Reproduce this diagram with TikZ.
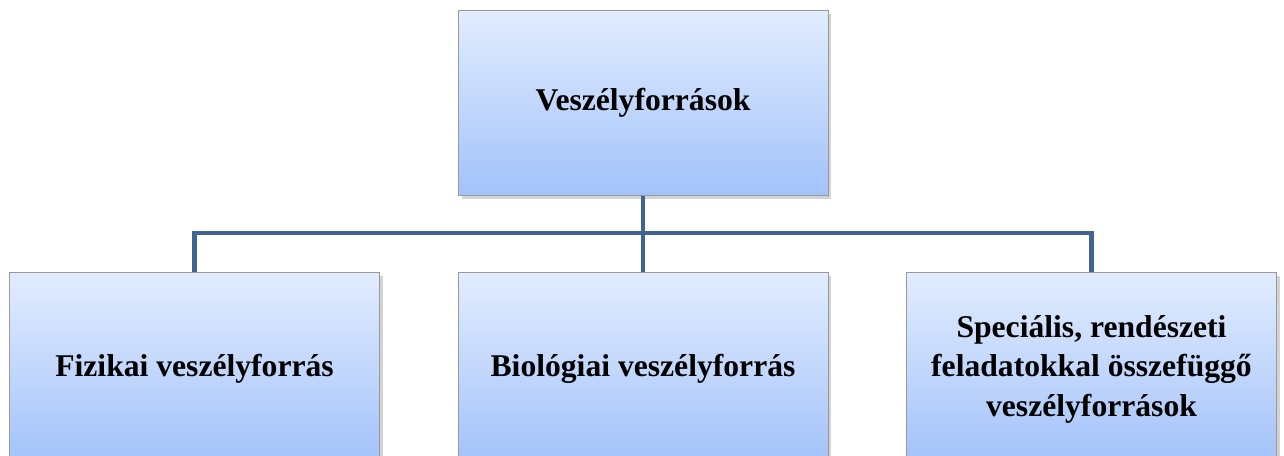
\documentclass[tikz,border=0pt]{standalone}
\usepackage{fontspec}
\setmainfont{Liberation Serif}
\usetikzlibrary{shadows}
\definecolor{boxtop}{HTML}{E2ECFE}
\definecolor{boxbottom}{HTML}{A2C2FA}
\definecolor{linkblue}{HTML}{3F6491}
\tikzset{
  sourcebox/.style={draw=black!40,top color=boxtop,bottom color=boxbottom,
    minimum width=7.4cm,minimum height=3.7cm,align=center,
    font=\bfseries\fontsize{18}{22.5}\selectfont,
    drop shadow={shadow xshift=2pt,shadow yshift=-2pt,opacity=0.35}},
  branch/.style={draw=linkblue,line width=2.8pt}
}
\begin{document}
\begin{tikzpicture}[x=0.02cm,y=0.02cm]
  \useasboundingbox (0,0) rectangle (1284,-456);

  % Root
  \node[sourcebox] (Sources) at (643,-103) {Veszélyforrások};

  % Branches
  \node[sourcebox,minimum height=3.88cm] (Physical) at (194.5,-369) {Fizikai veszélyforrás};
  \node[sourcebox,minimum height=3.88cm] (Biological) at (643,-369) {Biológiai veszélyforrás};
  \node[sourcebox,minimum height=3.88cm] (Special) at (1091.5,-369) {Speciális, rendészeti\\feladatokkal összefüggő\\veszélyforrások};

  \coordinate (Bus) at (643,-233);

\draw[branch] (Sources) to (Biological);
\draw[branch] (Bus) -| (Physical);
\draw[branch] (Bus) -| (Special);

\end{tikzpicture}
\end{document}
